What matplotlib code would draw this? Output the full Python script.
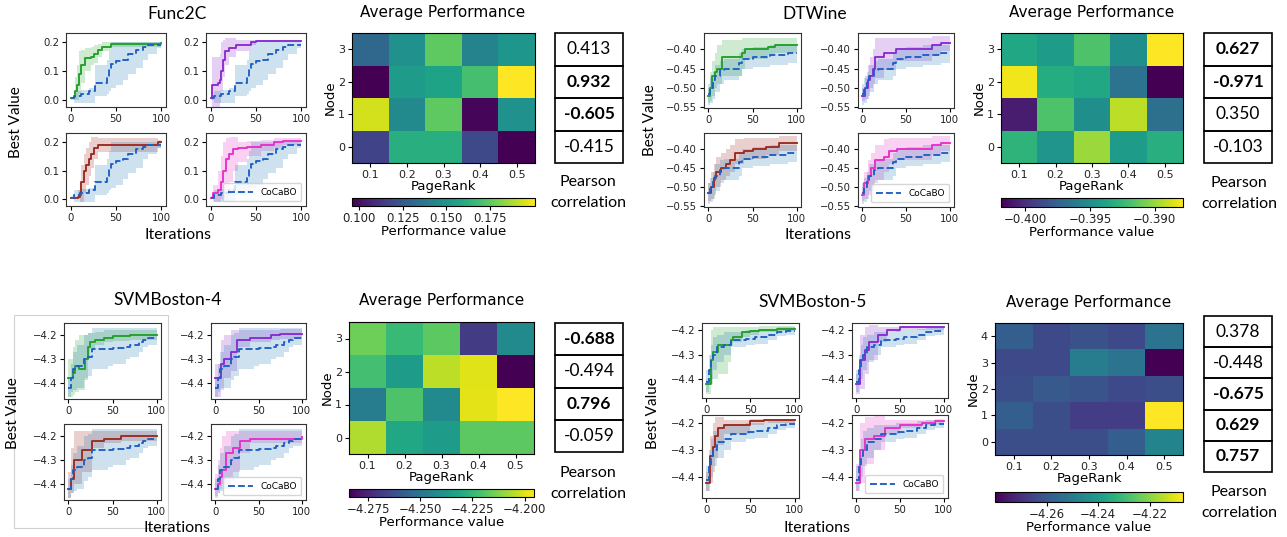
import matplotlib
matplotlib.use('Agg')
import matplotlib.pyplot as plt
from matplotlib.patches import Rectangle

# ---- curves: (iteration, mean, lower, upper) ----
f2_base = [(0, .005, .0, .01), (4, .015, -.012, .03), (12, .022, -.012, .035), (20, .03, -.012, .04),
           (27, .06, .015, .12), (40, .08, .02, .14), (42, .11, .03, .17), (45, .125, .04, .2),
           (50, .135, .05, .2), (58, .14, .07, .2), (63, .16, .09, .2), (72, .175, .11, .2),
           (80, .185, .14, .2), (85, .19, .16, .2), (95, .19, .18, .2), (100, .19, .18, .2)]
f2_green = [(0, .005, .003, .008), (4, .01, .0, .02), (5, .03, .0, .08), (7, .05, .0, .12),
            (9, .09, .02, .17), (12, .12, .06, .175), (16, .145, .1, .18), (22, .15, .12, .185),
            (26, .16, .13, .19), (30, .175, .15, .195), (35, .185, .17, .2), (45, .195, .185, .2),
            (100, .197, .19, .202)]
f2_purple = [(0, .005, .003, .008), (2, .05, -.03, .15), (8, .06, -.025, .15), (10, .07, -.01, .16),
             (12, .1, .03, .2), (14, .14, .08, .21), (16, .17, .12, .215), (20, .18, .15, .215),
             (28, .19, .17, .21), (45, .2, .19, .21), (50, .205, .2, .21), (100, .205, .2, .21)]
f2_brown = [(0, .005, .003, .008), (8, .008, .0, .03), (10, .02, -.01, .06), (12, .06, -.01, .12),
            (15, .1, .02, .16), (17, .12, .05, .18), (20, .14, .08, .2), (23, .16, .11, .22),
            (26, .18, .14, .22), (30, .19, .165, .215), (96, .2, .18, .21), (100, .2, .18, .21)]
f2_magenta = [(0, .005, .003, .008), (3, .02, -.01, .05), (8, .03, -.01, .1), (11, .06, .0, .15),
              (14, .1, .02, .2), (17, .14, .04, .215), (20, .16, .06, .22), (25, .175, .1, .22),
              (30, .18, .13, .2), (40, .185, .15, .205), (55, .19, .17, .21), (70, .2, .18, .215),
              (80, .205, .19, .215), (100, .205, .19, .215)]

dt_base = [(0, -.515, -.545, -.49), (2, -.5, -.54, -.475), (5, -.48, -.53, -.46), (8, -.47, -.51, -.44),
           (13, -.455, -.49, -.43), (18, -.45, -.48, -.425), (35, -.435, -.47, -.41),
           (38, -.425, -.45, -.4), (50, -.42, -.445, -.395), (70, -.415, -.44, -.39),
           (90, -.41, -.435, -.39), (100, -.41, -.435, -.39)]
dt_green = [(0, -.52, -.54, -.5), (2, -.5, -.535, -.46), (4, -.47, -.52, -.43), (7, -.46, -.5, -.41),
            (10, -.45, -.49, -.39), (15, -.42, -.47, -.375), (38, -.41, -.45, -.37),
            (42, -.4, -.425, -.37), (68, -.395, -.415, -.37), (75, -.39, -.41, -.37),
            (100, -.39, -.41, -.37)]
dt_purple = [(0, -.52, -.535, -.5), (3, -.5, -.53, -.47), (6, -.48, -.52, -.44), (9, -.47, -.5, -.42),
             (12, -.45, -.49, -.4), (14, -.42, -.475, -.37), (25, -.41, -.455, -.37),
             (38, -.4, -.43, -.37), (80, -.39, -.415, -.365), (90, -.385, -.405, -.365),
             (100, -.385, -.405, -.365)]
dt_brown = [(0, -.515, -.535, -.49), (3, -.5, -.53, -.46), (6, -.475, -.52, -.44), (9, -.46, -.5, -.42),
            (14, -.45, -.48, -.41), (20, -.44, -.47, -.4), (25, -.43, -.46, -.39),
            (30, -.41, -.44, -.375), (40, -.405, -.43, -.37), (50, -.4, -.425, -.37),
            (65, -.395, -.415, -.37), (80, -.385, -.405, -.365), (100, -.385, -.405, -.365)]
dt_magenta = [(0, -.52, -.535, -.5), (2, -.49, -.53, -.46), (6, -.47, -.52, -.43), (10, -.45, -.5, -.41),
              (14, -.43, -.48, -.39), (25, -.42, -.46, -.375), (30, -.405, -.44, -.37),
              (40, -.4, -.43, -.37), (80, -.39, -.415, -.365), (90, -.385, -.405, -.365),
              (100, -.385, -.405, -.365)]

s4_base = [(0, -4.42, -4.46, -4.38), (3, -4.38, -4.44, -4.32), (5, -4.34, -4.43, -4.27),
           (10, -4.33, -4.42, -4.24), (18, -4.3, -4.39, -4.2), (22, -4.29, -4.37, -4.19),
           (27, -4.26, -4.34, -4.17), (45, -4.26, -4.33, -4.17), (50, -4.255, -4.32, -4.17),
           (65, -4.25, -4.3, -4.17), (70, -4.24, -4.29, -4.17), (80, -4.23, -4.27, -4.17),
           (85, -4.22, -4.25, -4.17), (90, -4.21, -4.24, -4.17), (100, -4.21, -4.24, -4.17)]
s4_green = [(0, -4.38, -4.46, -4.3), (5, -4.36, -4.45, -4.25), (8, -4.33, -4.44, -4.22),
            (12, -4.34, -4.43, -4.2), (19, -4.3, -4.38, -4.2), (22, -4.25, -4.3, -4.19),
            (25, -4.23, -4.26, -4.19), (30, -4.22, -4.24, -4.185), (40, -4.21, -4.23, -4.18),
            (50, -4.205, -4.225, -4.18), (70, -4.2, -4.22, -4.18), (100, -4.2, -4.22, -4.18)]
s4_purple = [(0, -4.38, -4.46, -4.32), (6, -4.32, -4.42, -4.22), (10, -4.3, -4.38, -4.2),
             (18, -4.27, -4.35, -4.18), (25, -4.22, -4.25, -4.18), (40, -4.21, -4.23, -4.18),
             (65, -4.2, -4.22, -4.18), (75, -4.195, -4.215, -4.175), (100, -4.195, -4.215, -4.175)]
s4_brown = [(0, -4.42, -4.46, -4.35), (3, -4.38, -4.44, -4.25), (6, -4.3, -4.4, -4.18),
            (15, -4.26, -4.35, -4.18), (27, -4.22, -4.25, -4.18), (40, -4.21, -4.23, -4.18),
            (60, -4.2, -4.22, -4.18), (100, -4.2, -4.22, -4.18)]
s4_magenta = [(0, -4.42, -4.45, -4.36), (3, -4.4, -4.44, -4.3), (5, -4.37, -4.42, -4.25),
              (8, -4.34, -4.4, -4.2), (12, -4.27, -4.37, -4.18), (20, -4.25, -4.35, -4.18),
              (28, -4.22, -4.27, -4.18), (40, -4.21, -4.23, -4.18), (100, -4.205, -4.225, -4.18)]

s5_base = [(0, -4.41, -4.45, -4.36), (3, -4.36, -4.42, -4.3), (5, -4.32, -4.4, -4.26),
           (8, -4.3, -4.36, -4.23), (12, -4.27, -4.33, -4.22), (20, -4.26, -4.3, -4.21),
           (28, -4.24, -4.27, -4.21), (45, -4.235, -4.26, -4.2), (55, -4.23, -4.255, -4.2),
           (70, -4.22, -4.24, -4.195), (80, -4.21, -4.225, -4.19), (90, -4.205, -4.22, -4.19),
           (100, -4.205, -4.22, -4.19)]
s5_green = [(0, -4.42, -4.46, -4.4), (4, -4.42, -4.46, -4.3), (5, -4.32, -4.42, -4.2),
            (8, -4.29, -4.4, -4.19), (13, -4.26, -4.38, -4.19), (25, -4.26, -4.33, -4.19),
            (28, -4.24, -4.26, -4.19), (30, -4.23, -4.25, -4.19), (40, -4.21, -4.23, -4.19),
            (50, -4.205, -4.22, -4.19), (60, -4.2, -4.21, -4.185), (80, -4.195, -4.205, -4.185),
            (100, -4.195, -4.205, -4.185)]
s5_purple = [(0, -4.42, -4.46, -4.38), (4, -4.32, -4.44, -4.22), (10, -4.28, -4.38, -4.19),
             (15, -4.25, -4.32, -4.18), (25, -4.22, -4.25, -4.19), (35, -4.2, -4.21, -4.19),
             (50, -4.19, -4.2, -4.185), (100, -4.19, -4.2, -4.185)]
s5_brown = [(0, -4.42, -4.45, -4.38), (4, -4.32, -4.42, -4.25), (7, -4.29, -4.38, -4.2),
            (10, -4.25, -4.33, -4.18), (13, -4.22, -4.28, -4.18), (20, -4.21, -4.24, -4.19),
            (50, -4.195, -4.21, -4.185), (65, -4.19, -4.2, -4.185), (100, -4.19, -4.2, -4.185)]
s5_magenta = [(0, -4.42, -4.45, -4.35), (4, -4.3, -4.42, -4.2), (10, -4.26, -4.35, -4.18),
              (20, -4.25, -4.3, -4.17), (33, -4.22, -4.24, -4.19), (50, -4.21, -4.22, -4.19),
              (75, -4.2, -4.21, -4.19), (90, -4.195, -4.205, -4.185), (100, -4.195, -4.205, -4.185)]

# ---- heatmaps: rows are Node 0.. (bottom to top), columns PageRank ----
pagerank = ['0.1', '0.2', '0.3', '0.4', '0.5']
f2_heat = [[0.117, 0.162, 0.162, 0.119, 0.096],
           [0.194, 0.146, 0.175, 0.098, 0.149],
           [0.096, 0.154, 0.157, 0.170, 0.201],
           [0.131, 0.149, 0.175, 0.143, 0.151]]
dt_heat = [[-0.39273, -0.39456, -0.38992, -0.39414, -0.39302],
           [-0.40075, -0.39175, -0.39485, -0.38922, -0.39667],
           [-0.38809, -0.39316, -0.39344, -0.39653, -0.40188],
           [-0.39344, -0.39414, -0.39175, -0.39485, -0.38781]]
s4_heat = [[-4.2061, -4.2309, -4.2354, -4.2177, -4.2177],
           [-4.2469, -4.2203, -4.2416, -4.1990, -4.1955],
           [-4.2221, -4.2354, -4.2044, -4.1999, -4.2841],
           [-4.2150, -4.2239, -4.2177, -4.2682, -4.2416]]
s5_heat = [[-4.2625, -4.2625, -4.2625, -4.2581, -4.2472],
           [-4.2581, -4.2625, -4.2669, -4.2669, -4.2071],
           [-4.2625, -4.2596, -4.2610, -4.2640, -4.2625],
           [-4.2640, -4.2640, -4.2494, -4.2523, -4.2800],
           [-4.2581, -4.2640, -4.2618, -4.2640, -4.2523]]

f2_cbticks = [0.100, 0.125, 0.150, 0.175]
dt_cbticks = [-0.400, -0.395, -0.390]
s4_cbticks = [-4.275, -4.250, -4.225, -4.200]
s5_cbticks = [-4.26, -4.24, -4.22]

# ---- Pearson correlation, top row of the table first ----
f2_corr = ['0.413', '0.932', '-0.605', '-0.415']
f2_bold = [False, True, True, False]
dt_corr = ['0.627', '-0.971', '0.350', '-0.103']
dt_bold = [True, True, False, False]
s4_corr = ['-0.688', '-0.494', '0.796', '-0.059']
s4_bold = [True, False, True, False]
s5_corr = ['0.378', '-0.448', '-0.675', '0.629', '0.757']
s5_bold = [False, False, True, True, True]

W, H = 1287, 537
fig = plt.figure(figsize=(W / 100, H / 100), dpi=100)

SANS = 'Lato'
colors = ['#22a02a', '#8a2bd0', '#9b2a20', '#e630c8']
base_color = '#1f5fc4'
band_blue = '#1f77b4'


def box(x0, y0, x1, y1):
    return [x0 / W, 1 - y1 / H, (x1 - x0) / W, (y1 - y0) / H]


def ftext(x, y, s, **kw):
    fig.text(x / W, 1 - y / H, s, ha='center', va='center', **kw)


def draw_curve(ax, pts, color, ls='-', band=None, label=None):
    it, mean, lo, hi = zip(*pts)
    ax.fill_between(it, lo, hi, step='post', color=band or color, alpha=0.22, lw=0)
    ax.step(it, mean, where='post', color=color, ls=ls, lw=1.35, label=label)


def small_panel(boxes, curves, base, ylim, yticks, yfmt):
    for i, (b, c) in enumerate(zip(boxes, curves)):
        ax = fig.add_axes(box(*b))
        draw_curve(ax, c, colors[i])
        draw_curve(ax, base, base_color, ls='--', band=band_blue, label='CoCaBO')
        ax.set_xlim(-5, 105)
        ax.set_ylim(*ylim)
        ax.set_xticks([0, 50, 100])
        ax.set_yticks(yticks)
        ax.set_yticklabels([yfmt.format(v).replace('-', '\u2212') for v in yticks])
        ax.tick_params(labelsize=7.3, length=3, pad=2, labelcolor='#222222')
        for s in ax.spines.values():
            s.set_color('#333333')
        if i == 3:
            ax.legend(loc='lower right', fontsize=6.5, handlelength=2.8, borderpad=0.5)


def heat_panel(hbox, cbox, data, cbticks, cbfmt, title_xy):
    ax = fig.add_axes(box(*hbox))
    im = ax.imshow(data, origin='lower', aspect='auto', cmap='viridis')
    ax.set_xticks(range(len(pagerank)))
    ax.set_xticklabels(pagerank)
    ax.set_yticks(range(len(data)))
    ax.tick_params(labelsize=8, length=3, pad=2, labelcolor='#222222')
    ax.set_xlabel('PageRank', fontsize=9.5, labelpad=0)
    ax.set_ylabel('Node', fontsize=9.5, labelpad=1)
    cax = fig.add_axes(box(*cbox))
    cb = fig.colorbar(im, cax=cax, orientation='horizontal')
    cb.set_ticks(cbticks)
    cb.set_ticklabels([cbfmt.format(v).replace('-', '\u2212') for v in cbticks])
    cax.tick_params(labelsize=8.5, length=3, pad=1, labelcolor='#222222')
    cb.set_label('Performance value', fontsize=9.5, labelpad=0)
    ftext(*title_xy, 'Average Performance', fontsize=11)


def draw_table(tbox, values, bold, label_xy):
    ax = fig.add_axes(box(*tbox))
    n = len(values)
    ax.set_xlim(0, 1)
    ax.set_ylim(0, n)
    ax.axis('off')
    for i, (v, b) in enumerate(zip(values, bold)):
        y = n - 1 - i
        ax.add_patch(Rectangle((0, y), 1, 1, fill=False, ec='black', lw=1.2, clip_on=False))
        ax.text(0.5, y + 0.5, v, ha='center', va='center', fontsize=12.5,
                fontweight='bold' if b else 'normal', family=SANS)
    ftext(label_xy[0], label_xy[1], 'Pearson', fontsize=11.5, family=SANS)
    ftext(label_xy[0], label_xy[1] + 21, 'correlation', fontsize=11.5, family=SANS)


# ---- Func2C ----
small_panel([(66, 33, 166, 107), (206, 33, 306, 107), (66, 133, 166, 206), (206, 133, 306, 206)],
            [f2_green, f2_purple, f2_brown, f2_magenta], f2_base,
            (-0.025, 0.233), [0.0, 0.1, 0.2], '{:.1f}')
ftext(177, 14, 'Func2C', fontsize=12.5, family=SANS)
ftext(16, 122, 'Best Value', fontsize=11, family=SANS, rotation=90)
ftext(178, 235, 'Iterations', fontsize=11.5, family=SANS)
heat_panel((352, 33, 535, 163), (352, 198, 535, 206), f2_heat, f2_cbticks, '{:.3f}', (443, 13))
draw_table((555, 33, 623, 163), f2_corr, f2_bold, (588, 182))

# ---- DTWine ----
small_panel([(704, 33, 801, 108), (858, 33, 954, 108), (704, 133, 801, 207), (858, 133, 954, 207)],
            [dt_green, dt_purple, dt_brown, dt_magenta], dt_base,
            (-0.552, -0.358), [-0.55, -0.50, -0.45, -0.40], '{:.2f}')
ftext(815, 14, 'DTWine', fontsize=12.5, family=SANS)
ftext(650, 120, 'Best Value', fontsize=11, family=SANS, rotation=90)
ftext(818, 235, 'Iterations', fontsize=11.5, family=SANS)
heat_panel((1001, 33, 1183, 163), (1001, 198, 1183, 207), dt_heat, dt_cbticks, '{:.3f}', (1092, 13))
draw_table((1204, 33, 1272, 163), dt_corr, dt_bold, (1239, 183))

# ---- SVMBoston-4 ----
fig.patches.append(Rectangle((14 / W, 1 - 528 / H), 154 / W, 213 / H, transform=fig.transFigure,
                             fill=False, ec='#d0d0d0', lw=0.8))
small_panel([(64, 323, 161, 399), (211, 323, 306, 399), (64, 424, 161, 500), (211, 424, 306, 500)],
            [s4_green, s4_purple, s4_brown, s4_magenta], s4_base,
            (-4.468, -4.149), [-4.4, -4.3, -4.2], '{:.1f}')
ftext(168, 300, 'SVMBoston-4', fontsize=12.5, family=SANS)
ftext(13, 413, 'Best Value', fontsize=11, family=SANS, rotation=90)
ftext(177, 528, 'Iterations', fontsize=11.5, family=SANS)
heat_panel((349, 322, 534, 454), (349, 489, 534, 497), s4_heat, s4_cbticks, '{:.3f}', (442, 300))
draw_table((555, 323, 623, 452), s4_corr, s4_bold, (588, 473))

# ---- SVMBoston-5 ----
small_panel([(702, 323, 799, 398), (852, 323, 948, 398), (702, 415, 799, 498), (852, 415, 948, 498)],
            [s5_green, s5_purple, s5_brown, s5_magenta], s5_base,
            (-4.475, -4.172), [-4.4, -4.3, -4.2], '{:.1f}')
ftext(813, 302, 'SVMBoston-5', fontsize=12.5, family=SANS)
ftext(653, 413, 'Best Value', fontsize=11, family=SANS, rotation=90)
ftext(817, 528, 'Iterations', fontsize=11.5, family=SANS)
heat_panel((995, 323, 1183, 455), (995, 492, 1183, 502), s5_heat, s5_cbticks, '{:.2f}', (1089, 303))
draw_table((1204, 316, 1272, 472), s5_corr, s5_bold, (1239, 492))

fig.savefig('out.png', dpi=100)
